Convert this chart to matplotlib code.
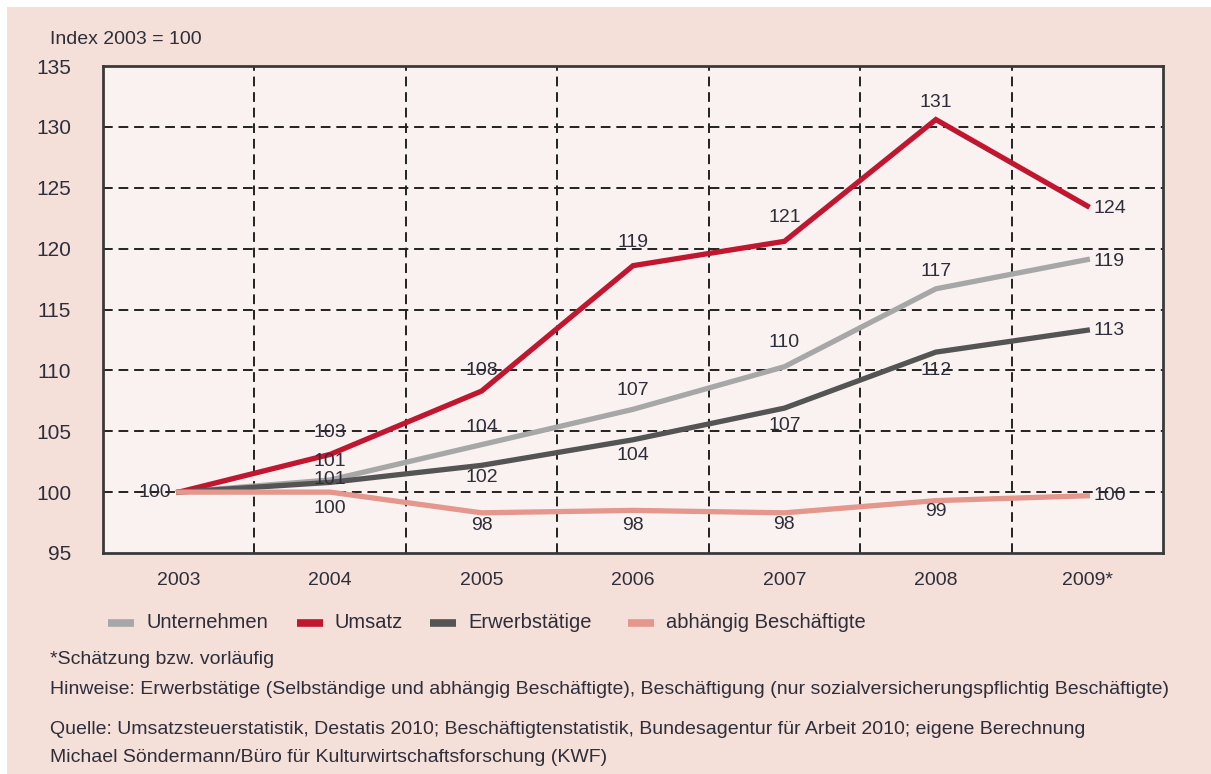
import matplotlib.pyplot as plt
from matplotlib.lines import Line2D
from matplotlib.patches import Rectangle

# data (Index 2003 = 100)
years = ["2003", "2004", "2005", "2006", "2007", "2008", "2009*"]
unternehmen = [100, 101.0, 103.9, 106.8, 110.3, 116.7, 119.1]
umsatz = [100, 103.1, 108.3, 118.6, 120.6, 130.6, 123.5]
erwerbstaetige = [100, 100.8, 102.2, 104.3, 106.9, 111.5, 113.3]
abhaengig = [100, 100.0, 98.3, 98.5, 98.3, 99.3, 99.7]

lbl_unternehmen = ["", "101", "104", "107", "110", "117", "119"]
lbl_umsatz = ["100", "103", "108", "119", "121", "131", "124"]
lbl_erwerbstaetige = ["", "101", "102", "104", "107", "112", "113"]
lbl_abhaengig = ["", "100", "98", "98", "98", "99", "100"]

# label offsets in pixels (dx, dy), screen up positive
off_unternehmen = [(0, 0), (0, 18), (0, 17), (0, 19), (0, 24), (0, 17), (6, -2)]
off_umsatz = [(-8, 0), (0, 22), (0, 21), (0, 23), (0, 24), (0, 17), (6, -2)]
off_erwerbstaetige = [(0, 0), (0, 3), (0, -12), (0, -16), (0, -17), (0, -18), (6, 0)]
off_abhaengig = [(0, 0), (0, -16), (0, -13), (0, -15), (0, -12), (0, -11), (6, 0)]

series = [
    ("Unternehmen", unternehmen, lbl_unternehmen, off_unternehmen, "#a7a7a7"),
    ("Umsatz", umsatz, lbl_umsatz, off_umsatz, "#c0162f"),
    ("Erwerbstätige", erwerbstaetige, lbl_erwerbstaetige, off_erwerbstaetige, "#545454"),
    ("abhängig Beschäftigte", abhaengig, lbl_abhaengig, off_abhaengig, "#e4978c"),
]

font = ["Liberation Sans", "DejaVu Sans"]
txt_col = "#2e2e3a"

W, H = 1211, 774
fig = plt.figure(figsize=(W / 100, H / 100), dpi=100, facecolor="white")
fig.add_artist(Rectangle((7 / W, 0), 1, 1 - 7 / H, transform=fig.transFigure,
                         facecolor="#f4dfd9", edgecolor="none", zorder=-10))

ax = fig.add_axes([103 / W, 1 - 553 / H, (1163 - 103) / W, (553 - 66) / H])
ax.set_facecolor("#faf2f0")

x = list(range(len(years)))
for name, vals, labels, offs, col in series:
    ax.plot(x, vals, color=col, lw=3.8, solid_joinstyle="miter", zorder=3)
    for xi, v, lab, (dx, dy) in zip(x, vals, labels, offs):
        if not lab:
            continue
        ha = "center"
        if dx < 0:
            ha = "right"
        elif dx > 0:
            ha = "left"
        ax.annotate(lab, (xi, v), xytext=(dx, dy), textcoords="offset pixels",
                    ha=ha, va="center", fontsize=14, color=txt_col,
                    family=font, zorder=4)

ax.set_xlim(-0.5, len(years) - 0.5)
ax.set_ylim(95, 135)
ax.set_yticks(range(95, 136, 5))
ax.set_xticks(x)
ax.set_xticklabels(years, family=font, fontsize=14, color=txt_col)
ax.set_yticklabels([str(v) for v in range(95, 136, 5)], family=font,
                   fontsize=15, color=txt_col)
ax.tick_params(axis="both", length=0)
ax.tick_params(axis="y", pad=23)
ax.tick_params(axis="x", pad=14)

# grid: horizontal at ticks, vertical between categories
for yv in range(100, 135, 5):
    ax.axhline(yv, color="#222222", lw=1.4, ls=(0, (5, 3)), zorder=1)
for xv in range(len(years) - 1):
    ax.axvline(xv + 0.5, color="#222222", lw=1.4, ls=(0, (5, 3)), zorder=1)

for s in ax.spines.values():
    s.set_color("#3a3a3a")
    s.set_linewidth(2)

fig.text(50 / W, 1 - 40 / H, "Index 2003 = 100", fontsize=14, family=font,
         color=txt_col, va="center", ha="left")

# legend
leg_x = [108, 297, 430, 628]
leg_y = 1 - 623 / H
for (name, vals, labels, offs, col), lx in zip(series, leg_x):
    fig.add_artist(Line2D([lx / W, (lx + 26) / W], [leg_y, leg_y],
                          transform=fig.transFigure, color=col, lw=5.5,
                          solid_capstyle="butt"))
    fig.text((lx + 38) / W, leg_y, name, fontsize=14.5, family=font,
             color=txt_col, va="center", ha="left")

notes = [
    (660, "*Schätzung bzw. vorläufig"),
    (690, "Hinweise: Erwerbstätige (Selbständige und abhängig Beschäftigte), "
          "Beschäftigung (nur sozialversicherungspflichtig Beschäftigte)"),
    (730, "Quelle: Umsatzsteuerstatistik, Destatis 2010; Beschäftigtenstatistik, "
          "Bundesagentur für Arbeit 2010; eigene Berechnung"),
    (758, "Michael Söndermann/Büro für Kulturwirtschaftsforschung (KWF)"),
]
for yy, t in notes:
    fig.text(50 / W, 1 - yy / H, t, fontsize=14, family=font, color=txt_col,
             va="center", ha="left")

fig.savefig("out.png", dpi=100, facecolor=fig.get_facecolor())
